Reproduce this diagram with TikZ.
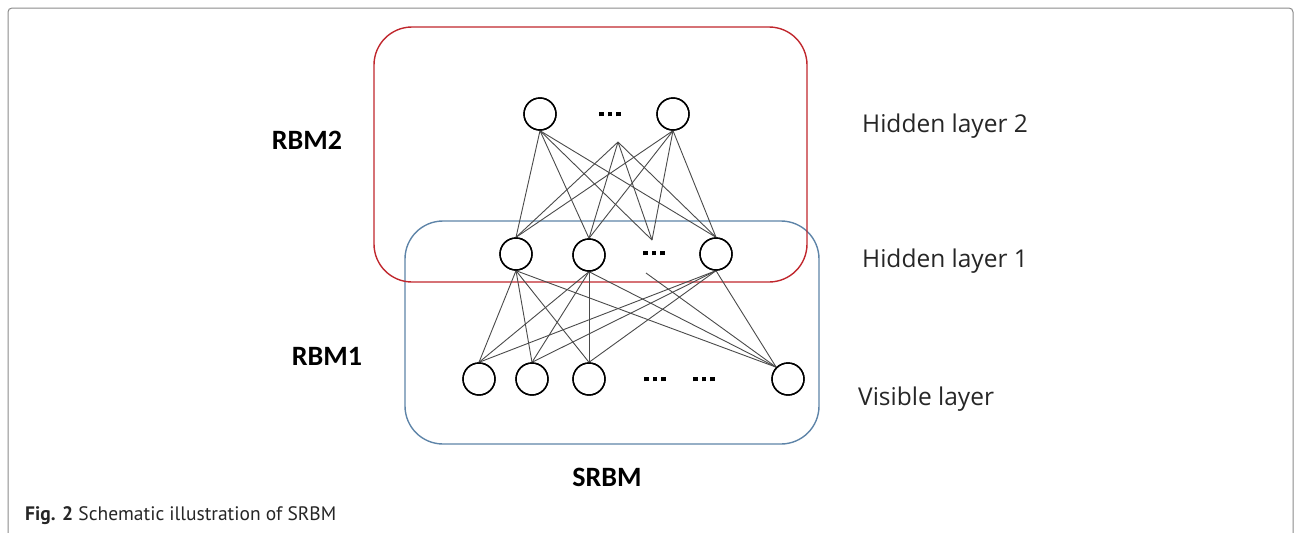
\documentclass[tikz,border=0pt]{standalone}
\usepackage{fontspec}
\setmainfont{Open Sans}
\newfontfamily\carl{Carlito}
\newfontfamily\capfont{PT Sans}
\definecolor{rbmred}{HTML}{C0272D}
\definecolor{rbmblue}{HTML}{5E84A8}
\definecolor{framegray}{HTML}{8A8A8A}
\definecolor{conngray}{HTML}{4A4A4A}
\newcommand{\sqdots}{\rule{4.5pt}{4.5pt}\hspace{4pt}\rule{4.5pt}{4.5pt}\hspace{4pt}\rule{4.5pt}{4.5pt}}
\begin{document}
\begin{tikzpicture}[x=1pt,y=-1pt,
  neuron/.style={circle,draw=black,fill=white,line width=1.4pt,minimum size=32pt,inner sep=0pt},
  conn/.style={draw=conngray,line width=0.9pt},
  dotsnode/.style={inner sep=0pt,outer sep=0pt},
  boxlabel/.style={font=\carl\bfseries\fontsize{28}{30}\selectfont,inner sep=0pt},
  layerlabel/.style={font=\fontsize{24.5}{27}\selectfont,inner sep=0pt,anchor=base west,text=black!85},
  group/.style={line width=1.4pt,rounded corners=38pt}]
\useasboundingbox (0,0) rectangle (1294,533);
% outer frame
\draw[framegray,line width=1pt,rounded corners=4pt] (8,560) -- (8,8) -- (1293,8) -- (1293,560);
% groups
\draw[group,rbmblue] (405,221) rectangle (819,444);
\draw[group,rbmred] (374,27) rectangle (807,282);
% hidden layer 2
\node[neuron] (h2a) at (540,114) {};
\node[neuron] (h2b) at (673,114) {};
\node[dotsnode] (h2d) at (610,114) {\sqdots};
\coordinate (g2) at (618,142);
% hidden layer 1
\node[neuron] (h1a) at (516,254) {};
\node[neuron] (h1b) at (589,255) {};
\node[neuron] (h1c) at (716,254) {};
\node[dotsnode] (h1d) at (654,253) {\sqdots};
\coordinate (g1) at (652,240);
\coordinate (g1b) at (646,273);
% visible layer
\node[neuron] (v1) at (479,379) {};
\node[neuron] (v2) at (532,379) {};
\node[neuron] (v3) at (589,379) {};
\node[neuron] (v4) at (788,379) {};
\node[dotsnode] (vd1) at (655,379) {\sqdots};
\node[dotsnode] (vd2) at (704,379) {\sqdots};
% connections hidden 2 -> hidden 1
\foreach \s in {h2a.south,g2,h2b.south}{
  \foreach \t in {h1a.north,h1b.north,g1,h1c.north}{
    \draw[conn] (\s) -- (\t);
  }
}
% connections hidden 1 -> visible
\foreach \s in {h1a,h1b,h1c}{
  \foreach \t in {v1,v2,v3}{
    \draw[conn] (\s.south) -- (\t.north);
  }
  \draw[conn] (\s.south) -- (v4.135);
}
\draw[conn] (g1b) -- (v4.135);
% redraw neurons on top
\foreach \n in {h2a,h2b,h1a,h1b,h1c,v1,v2,v3,v4}{
  \draw[black,line width=1.4pt] (\n) circle (16pt);
}
% labels
\node[boxlabel] (lrbm2) at (307,140) {RBM2};
\node[boxlabel] (lrbm1) at (327,356) {RBM1};
\node[boxlabel] (lsrbm) at (607,477) {SRBM};
\node[layerlabel] (lh2) at (862,132) {Hidden layer 2};
\node[layerlabel] (lh1) at (862,267) {Hidden layer 1};
\node[layerlabel] (lvis) at (858,405) {Visible layer};
\node[anchor=base west,inner sep=0pt,font=\capfont\fontsize{19.5}{23}\selectfont,text=black!85] (cap) at (25,520) {\textbf{Fig. 2} Schematic illustration of SRBM};
\end{tikzpicture}
\end{document}
